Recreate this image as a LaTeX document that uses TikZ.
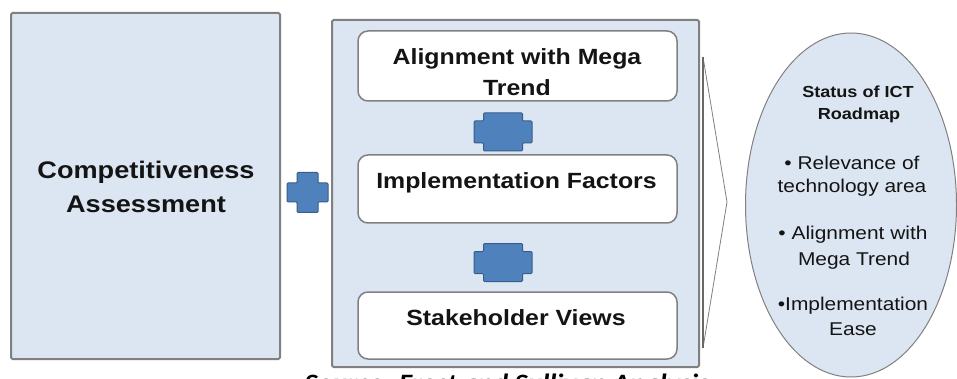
\documentclass[tikz,border=0pt]{standalone}
\usepackage{fontspec}
\setmainfont{Liberation Sans}[FakeStretch=1.13]
\newfontfamily\capfont{Carlito}[FakeStretch=1.13]
\usetikzlibrary{shapes.geometric}
\definecolor{lightfill}{HTML}{DCE6F2}
\definecolor{edgegray}{HTML}{808080}
\definecolor{plusfill}{HTML}{4F81BD}
\definecolor{plusedge}{HTML}{385D8A}
\definecolor{txt}{HTML}{141414}
\begin{document}
\begin{tikzpicture}[x=1pt,y=-1pt,
  bigbox/.style={draw=edgegray, line width=2pt, fill=lightfill, rounded corners=1.5pt, inner sep=0pt},
  innerbox/.style={draw=edgegray, line width=1.5pt, fill=white, rounded corners=10pt, inner sep=0pt, minimum width=319},
  plusstyle/.style={draw=plusedge, line width=1pt, fill=plusfill, rounded corners=1pt},
  bigtext/.style={font=\fontsize{24}{30}\selectfont\bfseries, text=txt, inner sep=0pt, anchor=base},
  boxtext/.style={font=\fontsize{22}{28}\selectfont\bfseries, text=txt, inner sep=0pt, anchor=base},
  titletext/.style={font=\fontsize{16}{20}\selectfont\bfseries, text=txt, inner sep=0pt, anchor=base},
  itemtext/.style={font=\fontsize{18.5}{23}\selectfont, text=txt, inner sep=0pt, anchor=base},
  captext/.style={font=\capfont\fontsize{25}{30}\selectfont\bfseries\itshape, text=black, inner sep=0pt, anchor=base},
  pics/plusshape/.style n args={4}{code={
    \draw[plusstyle] (-#3,-#2) -- (#3,-#2) -- (#3,-#4) -- (#1,-#4) -- (#1,#4) -- (#3,#4)
      -- (#3,#2) -- (-#3,#2) -- (-#3,#4) -- (-#1,#4) -- (-#1,-#4) -- (-#3,-#4) -- cycle;
  }}
]
\useasboundingbox (0,0) rectangle (957,379);
\clip (0,0) rectangle (957,379);
\fill[white] (0,0) rectangle (957,379);

% left box
\node[bigbox, minimum width=269, minimum height=346] (left) at (145.5,186) {};
\node[bigtext] (comp1) at (146,178.5) {Competitiveness};
\node[bigtext] (comp2) at (146,213) {Assessment};

% plus between
\pic at (307.5,192.5) {plusshape={20.5}{20}{10.5}{9.5}};

% container
\node[bigbox, minimum width=367, minimum height=347] (mid) at (515.5,193.5) {};
\node[innerbox, minimum height=70] (b1) at (517.5,66) {};
\node[innerbox, minimum height=68] (b2) at (517.5,189) {};
\node[innerbox, minimum height=67] (b3) at (517.5,325.5) {};
\node[boxtext] (t1a) at (517,65) {Alignment with Mega};
\node[boxtext] (t1b) at (517,96) {Trend};
\node[boxtext] (t2) at (516.5,188.5) {Implementation Factors};
\node[boxtext] (t3) at (516,325) {Stakeholder Views};
\pic at (503,132) {plusshape={29}{19}{19.5}{11}};
\pic at (503,262.5) {plusshape={29}{19}{19.5}{11}};

% chevron
\coordinate (chtop) at (703,57);
\coordinate (chtip) at (727,202);
\coordinate (chbot) at (703,348);
\draw[edgegray, line width=0.8pt, fill=white] (chtop) -- (chtip) -- (chbot) -- cycle;
\draw[edgegray!80!black, line width=1.6pt] (chtop) -- (chbot);

% ellipse
\node[ellipse, draw=edgegray, line width=1pt, fill=lightfill, minimum width=211, minimum height=344, inner sep=0pt] (status) at (851,205) {};
\node[titletext] (s1) at (858,98) {Status of ICT};
\node[titletext] (s2) at (859,120) {Roadmap};
\node[itemtext] (i1a) at (852,170) {• Relevance of};
\node[itemtext] (i1b) at (852,193) {technology area};
\node[itemtext] (i2a) at (853,240) {• Alignment with};
\node[itemtext] (i2b) at (854,265) {Mega Trend};
\node[itemtext] (i3a) at (853,310) {•Implementation};
\node[itemtext] (i3b) at (853,335) {Ease};

% caption (cut off at the bottom)
\node[captext] (source) at (507,391) {Source: Frost and Sullivan Analysis};
\end{tikzpicture}
\end{document}
